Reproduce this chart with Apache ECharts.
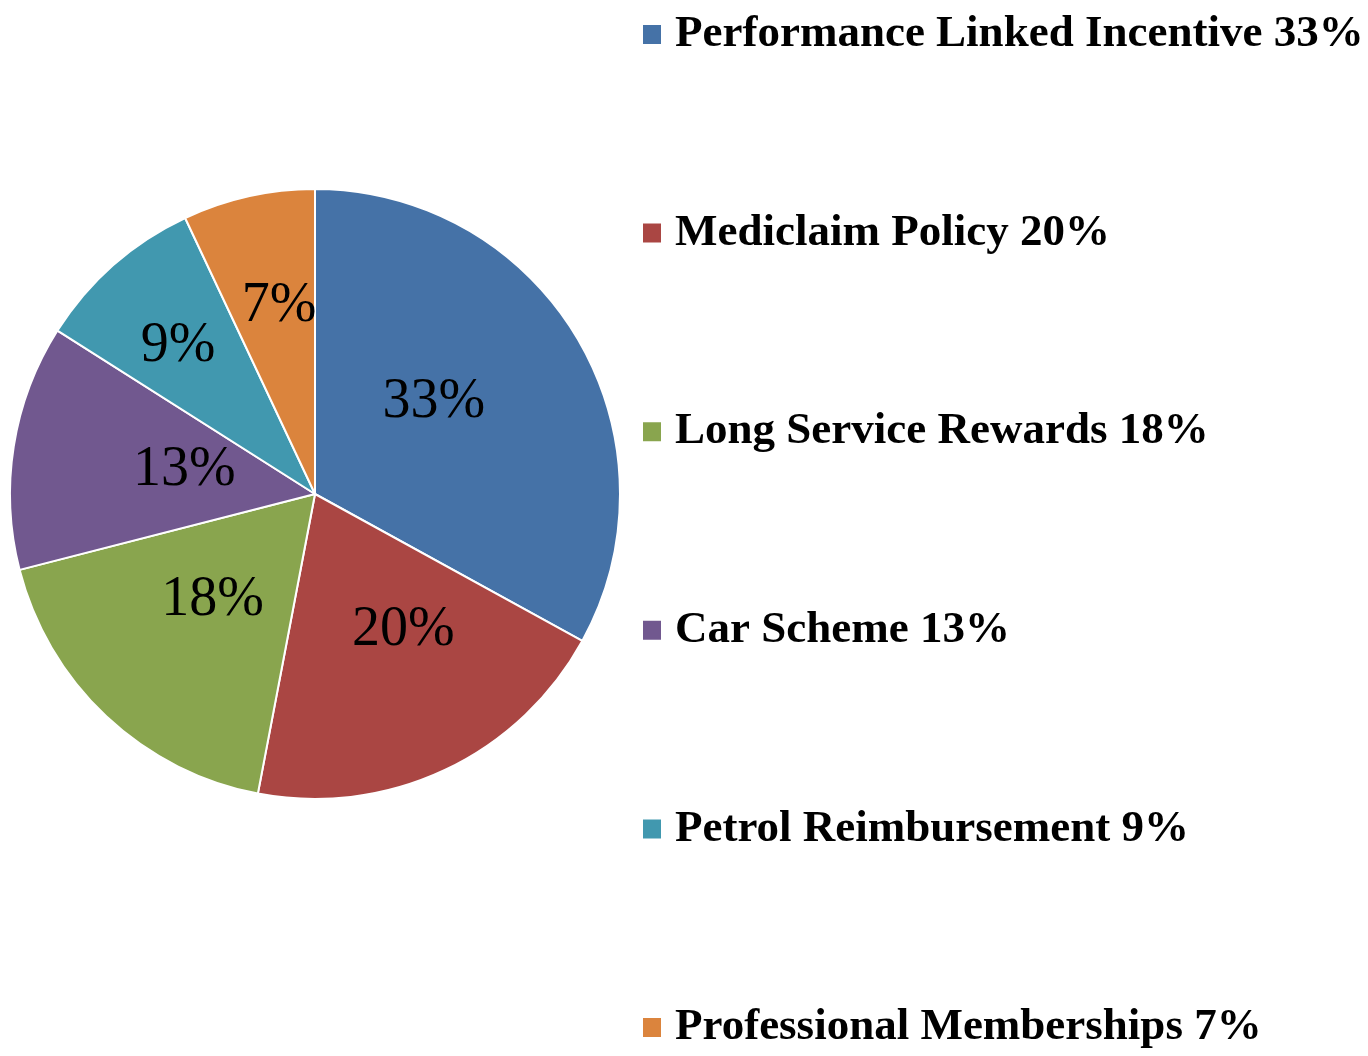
<!DOCTYPE html>
<html>
<head>
<meta charset="utf-8">
<script src="https://cdn.jsdelivr.net/npm/echarts@6/dist/echarts.min.js"></script>
<style>html,body{margin:0;padding:0;background:#fff}#chart{width:1368px;height:1056px}</style>
</head>
<body>
<div id="chart"></div>
<script>
const categories = ['Performance Linked Incentive', 'Mediclaim Policy', 'Long Service Rewards', 'Car Scheme', 'Petrol Reimbursement', 'Professional Memberships'];
const values = [33, 20, 18, 13, 9, 7];
const colors = ['#4572A7', '#AA4643', '#89A54E', '#71588F', '#4198AF', '#DB843D'];
// small label nudges (style only)
const labelNudge = [[-15, -13], [22, -4], [4, -7], [23, 1], [-34, -31], [-2, -36]];

const chart = echarts.init(document.getElementById('chart'), null, { renderer: 'canvas' });
chart.setOption({
  animation: false,
  color: colors,
  legend: {
    orient: 'vertical',
    left: 641,
    top: 12,
    padding: 0,
    itemWidth: 20,
    itemHeight: 21,
    itemGap: 153.6,
    icon: 'rect',
    selectedMode: false,
    data: categories,
    formatter: function (name) {
      const i = categories.indexOf(name);
      return name + ' ' + values[i] + '%';
    },
    textStyle: {
      fontFamily: '"Liberation Serif", serif',
      fontWeight: 'bold',
      fontSize: 45,
      lineHeight: 45,
      color: '#000',
      padding: [0, 0, 0, 8]
    }
  },
  series: [{
    type: 'pie',
    center: [315, 494],
    radius: [0, 305],
    startAngle: 90,
    clockwise: true,
    data: categories.map((c, i) => ({ name: c, value: values[i] })),
    itemStyle: { borderColor: '#fff', borderWidth: 2 },
    label: {
      show: true,
      position: 'inside',
      formatter: '{c}%',
      fontFamily: '"Liberation Serif", serif',
      fontSize: 56,
      color: '#000'
    },
    labelLine: { show: false },
    labelLayout: function (params) {
      const n = labelNudge[params.dataIndex];
      return { dx: n[0], dy: n[1] };
    },
    emphasis: { disabled: true }
  }]
});
</script>
</body>
</html>
